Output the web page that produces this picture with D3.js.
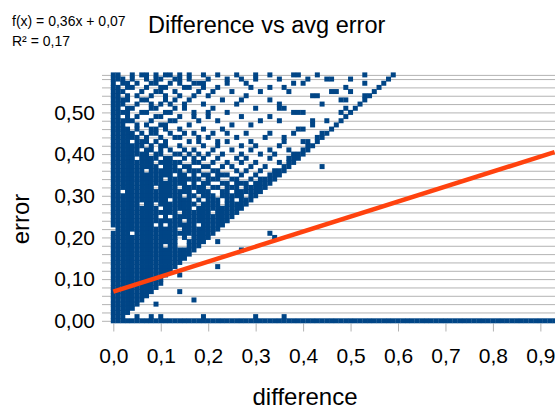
<!DOCTYPE html>
<html>
<head>
<meta charset="utf-8">
<script src="https://cdn.jsdelivr.net/npm/d3@7"></script>
<style>
  body { margin: 0; background: #fff; }
  svg { display: block; }
  text { font-family: "Liberation Sans", Arial, sans-serif; fill: #000; }
</style>
</head>
<body>
<svg id="chart" width="555" height="410"></svg>
<script>
// Axis ticks and their labels
const xTicks = [0, 0.1, 0.2, 0.3, 0.4, 0.5, 0.6, 0.7, 0.8, 0.9];
const xTickLabels = ["0,0", "0,1", "0,2", "0,3", "0,4", "0,5", "0,6", "0,7", "0,8", "0,9"];
const yTicks = [0, 0.1, 0.2, 0.3, 0.4, 0.5];
const yTickLabels = ["0,00", "0,10", "0,20", "0,30", "0,40", "0,50"];

// Linear trend line fitted to the data
const trendSlope = 0.36;
const trendIntercept = 0.07;
const trendLabel = "f(x) = 0,36x + 0,07";
const r2Label = "R² = 0,17";

// Observations on a 0.01 grid: [error, differences in hundredths]
const errorRows = [
  [0.59, "0-1,4,6-7,9,11-12,14,16,19,22,26,30,33,38-39,43,53,59"],
  [0.58, "0-2,4,7,9-10,13-14,16,20,24,27,30,35,41,45-46,50,58"],
  [0.57, "0,2-3,5,8-9,12,14,17-19,24,28,38,40,53,57"],
  [0.56, "0-1,3-4,7,10-11,15-16,19,22,29,33,36,49,56"],
  [0.55, "0-2,6,9-10,13,18,21,25,31,37,46-47,50,55"],
  [0.54, "0-1,3,5,8,11,14,17,20,28,42-43,53-54"],
  [0.53, "0-3,6-7,11,13,16,23,27,33,48-49,53"],
  [0.52, "0-2,5,8,10,12,15,19,26,35,44,52"],
  [0.51, "0-1,3-4,8-9,13,15,21,30,35-36,49,51"],
  [0.50, "0-3,6-7,11-12,17,20,24,38-40,48,50"],
  [0.49, "0-1,3,5,9-10,14,17,20,27,33,49"],
  [0.48, "0-4,8,12-13,18,22,31,35,42,45,48"],
  [0.47, "0-2,5,7,10-11,16,25,29,42,47"],
  [0.46, "0-3,5,8-9,11,14,19,23,39-40,46"],
  [0.45, "0-4,6,8-9,12,15,17,21,24,28,33,38,44-45"],
  [0.44, "0-5,7,10,13-14,18,20,26,32,36,43-44"],
  [0.43, "0-3,5-7,9,11,16,18,22,24,29,36,40-41,43"],
  [0.42, "0-6,8,10-11,14,19,22,27,30,35,41-42"],
  [0.41, "0-5,7-8,10,12,15,17,21,25,29,33,37,40-41"],
  [0.40, "0-7,9-10,13-14,16,18,20,23,27,31,34,38-40"],
  [0.39, "0-4,6-9,11-12,15,17,19,22,26,28,33,37-39"],
  [0.38, "0-8,10-14,17-18,21,24,27,30,35,37-38"],
  [0.37, "0-9,11-13,15-16,19-20,23,25,29,32,36-37,44"],
  [0.36, "0-6,8-14,16-18,21-22,26,28,31,34-36"],
  [0.35, "0-12,14-15,17,19-20,22-24,27,30,33-35"],
  [0.34, "0-10,12-18,20-22,25-26,29,31-34"],
  [0.33, "0-15,17,19-20,23-24,26-28,30-33"],
  [0.32, "0-8,10-13,15-19,21-22,24-26,28-32"],
  [0.31, "0-1,3-16,18-20,23-24,26-31"],
  [0.30, "0-14,16-17,19-21,23-27,29-30"],
  [0.29, "0-11,13-16,18,20-22,24-25,27-29"],
  [0.28, "0-5,7-8,10-17,19-22,24-28"],
  [0.27, "0-9,11-16,18-27"],
  [0.26, "0-13,15-20,22-26"],
  [0.25, "0-9,11,13-25"],
  [0.24, "0-14,16-24"],
  [0.23, "0-8,10,12-17,19-23"],
  [0.22, "1-13,15-22"],
  [0.21, "0-3,5-21,33"],
  [0.20, "0-13,15,17-20,34"],
  [0.19, "0-13,16-19,22"],
  [0.18, "0-10,12-13,16-18"],
  [0.17, "0-17,27"],
  [0.16, "0-16"],
  [0.15, "0-15"],
  [0.14, "0-14"],
  [0.13, "0-13,22"],
  [0.12, "0-12"],
  [0.11, "0-11,14"],
  [0.10, "0-10"],
  [0.09, "0-10"],
  [0.08, "0-9"],
  [0.07, "0-8,14"],
  [0.06, "0-7"],
  [0.05, "0-6,17"],
  [0.04, "0-5,9"],
  [0.03, "0-4"],
  [0.02, "0-3"],
  [0.01, "0-2,5,8,10,19,30,36"],
  [0.00, "0-93"]
];

// Expand the run notation into individual points
const points = [];
errorRows.forEach(([err, spec]) => {
  spec.split(",").forEach(part => {
    const [a, b] = part.split("-").map(Number);
    const end = b === undefined ? a : b;
    for (let c = a; c <= end; c++) points.push({ difference: c / 100, error: err });
  });
});

const svg = d3.select("#chart");

const x = d3.scaleLinear().domain([0, 0.93]).range([113.3, 554.6]);
const y = d3.scaleLinear().domain([0, 0.59]).range([320.8, 74.9]);

// Horizontal grid every 0.02 plus the top edge of the plot
const gridValues = d3.range(0, 0.585, 0.02).concat([0.59]);
const grid = svg.append("g")
  .attr("transform", "translate(102,0)")
  .call(d3.axisLeft(y).tickValues(gridValues).tickSize(-(555 - 102)).tickFormat(""));
grid.select(".domain").remove();
grid.selectAll(".tick line").attr("stroke", "#b3b3b3").attr("stroke-width", 1);

// Y axis labels
const yAxis = svg.append("g")
  .attr("transform", "translate(102,0)")
  .call(d3.axisLeft(y).tickValues(yTicks).tickFormat((d, i) => yTickLabels[i]).tickSize(0).tickPadding(7));
yAxis.select(".domain").remove();
yAxis.selectAll("text")
  .attr("font-size", 21).attr("font-family", "Liberation Sans, Arial, sans-serif").attr("fill", "#000");

// X axis
const xAxis = svg.append("g")
  .attr("transform", "translate(0,323.5)")
  .call(d3.axisBottom(x).tickValues(xTicks).tickFormat((d, i) => xTickLabels[i]).tickSize(8).tickPadding(16.5));
xAxis.select(".domain").remove();
xAxis.selectAll(".tick line").attr("stroke", "#b3b3b3");
xAxis.selectAll("text")
  .attr("font-size", 21).attr("font-family", "Liberation Sans, Arial, sans-serif").attr("fill", "#000");

// Data points
const size = 5;
svg.append("g")
  .selectAll("rect")
  .data(points)
  .join("rect")
  .attr("x", d => x(d.difference) - size / 2)
  .attr("y", d => y(d.error) - size / 2)
  .attr("width", size)
  .attr("height", size)
  .attr("fill", "#004586");

// Trend line
const xDomain = x.domain();
svg.append("line")
  .attr("x1", x(xDomain[0]))
  .attr("y1", y(trendIntercept + trendSlope * xDomain[0]))
  .attr("x2", x(xDomain[1]))
  .attr("y2", y(trendIntercept + trendSlope * xDomain[1]))
  .attr("stroke", "#ff420e")
  .attr("stroke-width", 4.5);

// Titles
svg.append("text").attr("x", 148).attr("y", 33).attr("font-size", 23.5)
  .text("Difference vs avg error");
svg.append("text").attr("x", 12).attr("y", 26).attr("font-size", 14).text(trendLabel);
svg.append("text").attr("x", 12).attr("y", 46).attr("font-size", 14).text(r2Label);

svg.append("text")
  .attr("transform", "translate(28.5,219) rotate(-90)")
  .attr("text-anchor", "middle").attr("font-size", 24).text("error");
svg.append("text")
  .attr("x", 305).attr("y", 404.5).attr("text-anchor", "middle").attr("font-size", 24)
  .text("difference");
</script>
</body>
</html>
